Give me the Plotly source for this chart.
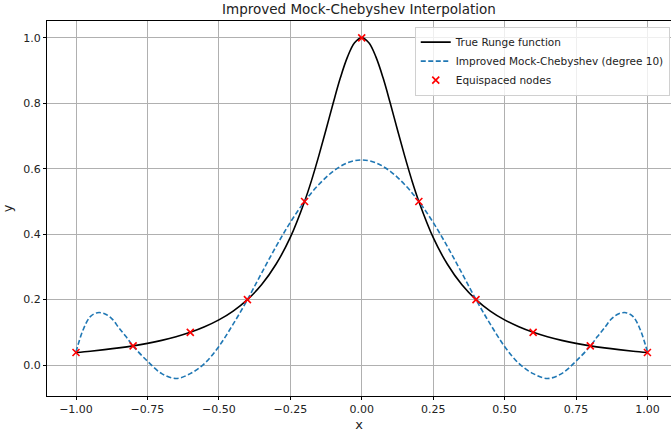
import plotly.graph_objects as go

# Runge-функция
x_true = [-1.0, -0.95, -0.9, -0.85, -0.8, -0.75, -0.7, -0.65, -0.6, -0.55, -0.5, -0.45, -0.4,
          -0.35, -0.3, -0.25, -0.2, -0.175, -0.15, -0.125, -0.1, -0.075, -0.05, -0.025, 0.0,
          0.025, 0.05, 0.075, 0.1, 0.125, 0.15, 0.175, 0.2, 0.25, 0.3, 0.35, 0.4, 0.45, 0.5,
          0.55, 0.6, 0.65, 0.7, 0.75, 0.8, 0.85, 0.9, 0.95, 1.0]
y_true = [0.0385, 0.0424, 0.0471, 0.0525, 0.0588, 0.0664, 0.0755, 0.0865, 0.1, 0.117, 0.138, 0.165, 0.2,
          0.246, 0.308, 0.39, 0.5, 0.566, 0.64, 0.719, 0.8, 0.877, 0.941, 0.985, 1.0,
          0.985, 0.941, 0.877, 0.8, 0.719, 0.64, 0.566, 0.5, 0.39, 0.308, 0.246, 0.2, 0.165, 0.138,
          0.117, 0.1, 0.0865, 0.0755, 0.0664, 0.0588, 0.0525, 0.0471, 0.0424, 0.0385]

# аппроксимация Mock-Chebyshev
x_mock = [-1.0, -0.975, -0.95, -0.925, -0.9, -0.875, -0.85, -0.825, -0.8, -0.75, -0.7, -0.65, -0.6,
          -0.55, -0.5, -0.45, -0.4, -0.35, -0.3, -0.25, -0.2, -0.15, -0.1, -0.05, 0.0,
          0.05, 0.1, 0.15, 0.2, 0.25, 0.3, 0.35, 0.4, 0.45, 0.5, 0.55, 0.6, 0.65, 0.7,
          0.75, 0.8, 0.825, 0.85, 0.875, 0.9, 0.925, 0.95, 0.975, 1.0]
y_mock = [0.040, 0.108, 0.148, 0.160, 0.157, 0.142, 0.114, 0.087, 0.058, 0.012, -0.026, -0.041, -0.026,
          0.005, 0.057, 0.125, 0.200, 0.282, 0.362, 0.436, 0.500, 0.552, 0.592, 0.618, 0.627,
          0.618, 0.592, 0.552, 0.500, 0.436, 0.362, 0.282, 0.200, 0.125, 0.057, 0.005, -0.026, -0.041, -0.026,
          0.012, 0.058, 0.087, 0.114, 0.142, 0.157, 0.160, 0.148, 0.108, 0.040]

# равноотстоящие узлы
x_nodes = [-1.0, -0.8, -0.6, -0.4, -0.2, 0.0, 0.2, 0.4, 0.6, 0.8, 1.0]
y_nodes = [0.0385, 0.0588, 0.1, 0.2, 0.5, 1.0, 0.5, 0.2, 0.1, 0.0588, 0.0385]

x_ticks = [-1.0, -0.75, -0.5, -0.25, 0.0, 0.25, 0.5, 0.75, 1.0]
x_ticktext = ["\u22121.00", "\u22120.75", "\u22120.50", "\u22120.25", "0.00", "0.25", "0.50", "0.75", "1.00"]
y_ticks = [0.0, 0.2, 0.4, 0.6, 0.8, 1.0]
y_ticktext = ["0.0", "0.2", "0.4", "0.6", "0.8", "1.0"]

fig = go.Figure()
fig.add_trace(go.Scatter(x=x_true, y=y_true, name="True Runge function", mode="lines",
                         line=dict(color="black", width=1.6, shape="spline", smoothing=1)))
fig.add_trace(go.Scatter(x=x_mock, y=y_mock, name="Improved Mock-Chebyshev (degree 10)", mode="lines",
                         line=dict(color="#1f77b4", width=1.6, dash="5px,2.5px", shape="spline", smoothing=1)))
fig.add_trace(go.Scatter(x=x_nodes, y=y_nodes, name="Equispaced nodes", mode="markers",
                         marker=dict(symbol="x-thin", size=7, color="red",
                                     line=dict(color="red", width=1.6))))

fig.update_layout(
    width=671, height=435,
    margin=dict(l=47, r=0, t=21, b=39),
    plot_bgcolor="white", paper_bgcolor="white",
    font=dict(family="DejaVu Sans", size=11, color="#222"),
    title=dict(text="Improved Mock-Chebyshev Interpolation", x=0.5, xref="paper",
               y=1 - 9 / 435, yref="container", yanchor="middle",
               font=dict(size=13.5, color="#222")),
    legend=dict(x=0.998, xanchor="right", y=0.985, yanchor="top",
                bgcolor="rgba(255,255,255,0.8)", bordercolor="#d0d0d0", borderwidth=1,
                font=dict(size=10.5), itemwidth=30, tracegroupgap=0),
)
fig.update_xaxes(range=[-1.1015, 1.0825], tickvals=x_ticks, ticktext=x_ticktext,
                 showgrid=True, gridcolor="#b0b0b0", gridwidth=0.8, zeroline=False,
                 showline=True, linecolor="black", linewidth=1, mirror=True,
                 ticks="outside", ticklen=3, tickcolor="black",
                 title=dict(text="x", standoff=4))
fig.update_yaxes(range=[-0.0945, 1.0515], tickvals=y_ticks, ticktext=y_ticktext,
                 showgrid=True, gridcolor="#b0b0b0", gridwidth=0.8, zeroline=False,
                 showline=True, linecolor="black", linewidth=1, mirror=False,
                 ticks="outside", ticklen=3, tickcolor="black",
                 title=dict(text="y", standoff=8))

# убрать отступ body, чтобы фигура стояла в углу окна
fig.write_html("out.html", config={"displayModeBar": False},
               post_script="document.body.style.margin='0';")
